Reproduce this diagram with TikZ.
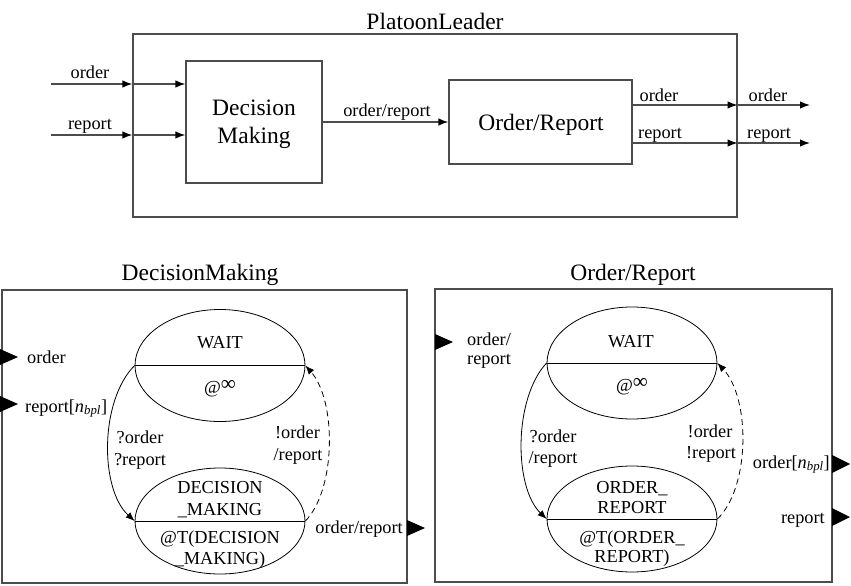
\documentclass[tikz,border=0pt]{standalone}
\usepackage{fontspec}
\setmainfont{Liberation Serif}
\usetikzlibrary{arrows.meta,shapes.geometric}
\newcommand\bigf{\fontsize{23.5}{27}\selectfont}
\newcommand\smf{\fontsize{18.3}{22}\selectfont}
\newcommand\infsym{\raisebox{2.5pt}{\fontsize{21}{21}\selectfont ∞}}
\begin{document}
\begin{tikzpicture}[x=1pt,y=-1pt,
  txt/.style={inner sep=0pt, anchor=base, font=\smf},
  txtl/.style={inner sep=0pt, anchor=base west, font=\smf},
  txtr/.style={inner sep=0pt, anchor=base east, font=\smf},
  ttl/.style={inner sep=0pt, anchor=base, font=\bigf},
  frame/.style={draw=black!70, line width=1.2pt, rectangle, inner sep=0pt},
  conn/.style={draw=black!70, line width=1.3pt, -{Latex[length=10pt,width=7.5pt,color=black]}},
  st/.style={ellipse, draw, line width=0.8pt, minimum width=170pt, minimum height=112pt, inner sep=0pt},
  tr/.style={-{Latex[length=9pt,width=7pt]}, line width=0.8pt},
  dashline/.style={dash pattern=on 6pt off 4pt},
  port/.style={fill=black}]
\useasboundingbox (0,0) rectangle (851,586);

% ---------------- top: PlatoonLeader ----------------
\node[ttl] (pltitle) at (435,30) {PlatoonLeader};
\node[frame, minimum width=604pt, minimum height=183pt] (pl) at (435,125.5) {};
\node[frame, minimum width=136pt, minimum height=122pt] (dm) at (254,122) {};
\node[ttl] (dmt1) at (254,115) {Decision};
\node[ttl] (dmt2) at (254,143) {Making};
\node[frame, minimum width=183pt, minimum height=84pt] (or) at (540.5,122) {};
\node[ttl] (ort) at (541,130) {Order/Report};

\coordinate (i1) at (51,84);
\coordinate (i2) at (51,135);
\draw[conn] (i1) -- (pl.west |- i1);
\draw[conn] (pl.west |- i1) -- (dm.west |- i1);
\draw[conn] (i2) -- (pl.west |- i2);
\draw[conn] (pl.west |- i2) -- (dm.west |- i2);
\node[txt] (lo1) at (90,78) {order};
\node[txt] (lr1) at (90,129) {report};

\draw[conn] (dm.east) -- (or.west);
\node[txt] (lor) at (387,116) {order/report};

\coordinate (o1) at (810,105);
\coordinate (o2) at (810,143);
\draw[conn] (or.east |- o1) -- (pl.east |- o1);
\draw[conn] (pl.east |- o1) -- (o1);
\draw[conn] (or.east |- o2) -- (pl.east |- o2);
\draw[conn] (pl.east |- o2) -- (o2);
\node[txt] (lo2) at (659,101) {order};
\node[txt] (lo3) at (768,101) {order};
\node[txt] (lr2) at (660,138) {report};
\node[txt] (lr3) at (769,138) {report};

% ---------------- bottom left: DecisionMaking ----------------
\node[ttl] (dmtitle) at (200,280) {DecisionMaking};
\node[frame, minimum width=405pt, minimum height=293pt] (dmbox) at (204.5,436.5) {};
\node[st] (w1) at (220,365.5) {};
\node[st, minimum height=106pt] (d1) at (220,521) {};
\draw[line width=0.8pt] (w1.west) -- (w1.east);
\draw[line width=0.8pt] (d1.west) -- (d1.east);
\node[txt] (w1a) at (220,348) {WAIT};
\node[txt] (w1b) at (220,393) {@\infsym};
\node[txt] (d1a) at (220,493) {DECISION};
\node[txt] (d1b) at (220,515) {\_MAKING};
\node[txt] (d1c) at (220,543) {@T(DECISION};
\node[txt] (d1d) at (220,564) {\_MAKING)};
\draw[tr] (w1.west) .. controls +(-35,35) and +(-35,-32) .. (d1.west);
\draw[tr, dashline] (d1.east) .. controls +(31,-32) and +(31,35) .. (w1.east);
\node[txt] (q1a) at (140,443) {?order};
\node[txt] (q1b) at (140,465) {?report};
\node[txt] (e1a) at (297.5,438) {!order};
\node[txt] (e1b) at (298,460) {/report};
\fill[port] (0,349) -- (18,357) -- (0,365) -- cycle;
\fill[port] (0,396) -- (18,404) -- (0,412) -- cycle;
\fill[port] (407,520) -- (425,528) -- (407,536) -- cycle;
\node[txtl] (p1a) at (27,363) {order};
\node[txtl] (p1b) at (25,412) {report[\textit{n}\textsubscript{\textit{bpl}}]};
\node[txtr] (p1c) at (403,533) {order/report};

% ---------------- bottom right: Order/Report ----------------
\node[ttl] (ortitle) at (633,280) {Order/Report};
\node[frame, minimum width=397pt, minimum height=293pt] (orbox) at (633.5,435.5) {};
\node[st] (w2) at (632,363) {};
\node[st, minimum height=106pt] (d2) at (632,519) {};
\draw[line width=0.8pt] (w2.west) -- (w2.east);
\draw[line width=0.8pt] (d2.west) -- (d2.east);
\node[txt] (w2a) at (631,347) {WAIT};
\node[txt] (w2b) at (632,391) {@\infsym};
\node[txt] (d2a) at (632,493) {ORDER\_};
\node[txt] (d2b) at (632,513) {REPORT};
\node[txt] (d2c) at (632,543) {@T(ORDER\_};
\node[txt] (d2d) at (632,562) {REPORT)};
\draw[tr] (w2.west) .. controls +(-33,35) and +(-33,-32) .. (d2.west);
\draw[tr, dashline] (d2.east) .. controls +(33,-32) and +(33,35) .. (w2.east);
\node[txt] (q2a) at (553,442) {?order};
\node[txt] (q2b) at (553,463) {/report};
\node[txt] (e2a) at (710,437) {!order};
\node[txt] (e2b) at (711,458) {!report};
\fill[port] (435,334) -- (453,342) -- (435,350) -- cycle;
\fill[port] (832,455) -- (850,464) -- (832,473) -- cycle;
\fill[port] (832,508) -- (850,517) -- (832,526) -- cycle;
\node[txtl] (p2a) at (467,345) {order/};
\node[txtl] (p2b) at (467,364) {report};
\node[txtr] (p2c) at (830,468) {order[\textit{n}\textsubscript{\textit{bpl}}]};
\node[txtr] (p2d) at (825,523) {report};
\end{tikzpicture}
\end{document}
